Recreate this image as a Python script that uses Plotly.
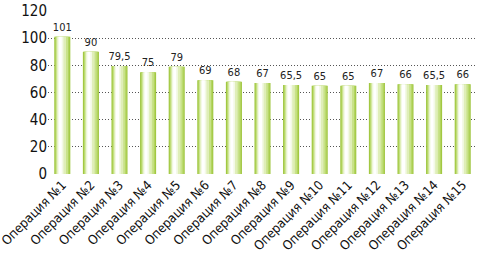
import plotly.graph_objects as go

categories = [f"Операция №{i}" for i in range(1, 16)]
values = [101, 90, 79.5, 75, 79, 69, 68, 67, 65.5, 65, 65, 67, 66, 65.5, 66]
value_labels = ["101", "90", "79,5", "75", "79", "69", "68", "67", "65,5", "65", "65", "67", "66", "65,5", "66"]
y_ticks = [0, 20, 40, 60, 80, 100, 120]

FONT = "Liberation Sans Narrow, Arial Narrow, DejaVu Sans Condensed, Liberation Sans, sans-serif"

# layered bars to imitate the cylindrical gradient
layers = [
    (0.56, -0.28, "#9cc43a"),
    (0.50, -0.25, "#b2d45e"),
    (0.42, -0.22, "#c8e289"),
    (0.32, -0.19, "#dfeeb8"),
    (0.20, -0.16, "#f3f9e6"),
    (0.10, -0.12, "#ffffff"),
]

fig = go.Figure()
for i, (w, off, col) in enumerate(layers):
    fig.add_trace(go.Bar(
        x=categories, y=values, width=w, offset=off,
        marker=dict(color=col, line=dict(width=0)),
        text=value_labels if i == 0 else None,
        textposition="outside" if i == 0 else "none",
        constraintext="none",
        textfont=dict(family=FONT, size=11, color="#222222"),
        cliponaxis=False, hoverinfo="skip", showlegend=False,
    ))

fig.update_layout(
    width=477, height=255,
    margin=dict(l=48, r=0, t=11, b=81),
    barmode="overlay",
    plot_bgcolor="white", paper_bgcolor="white",
    font=dict(family=FONT, color="#111111"),
    showlegend=False,
)
fig.update_xaxes(
    range=[-0.5, 14.5],
    tickangle=-45, tickfont=dict(family=FONT, size=13, color="#111111"),
    showgrid=False, showline=False, ticks="", automargin=False,
)
fig.update_yaxes(
    range=[0, 120], tickvals=y_ticks, ticktext=[str(v) for v in y_ticks],
    tickfont=dict(family=FONT, size=15, color="#111111"),
    showgrid=True, gridcolor="#555555", gridwidth=1, griddash="1px,2px",
    zeroline=False, showline=False, ticks="", automargin=False,
)
fig.write_html(
    "out.html",
    config={"displayModeBar": False},
    post_script="document.body.style.margin='0';document.body.style.overflow='hidden';",
)
